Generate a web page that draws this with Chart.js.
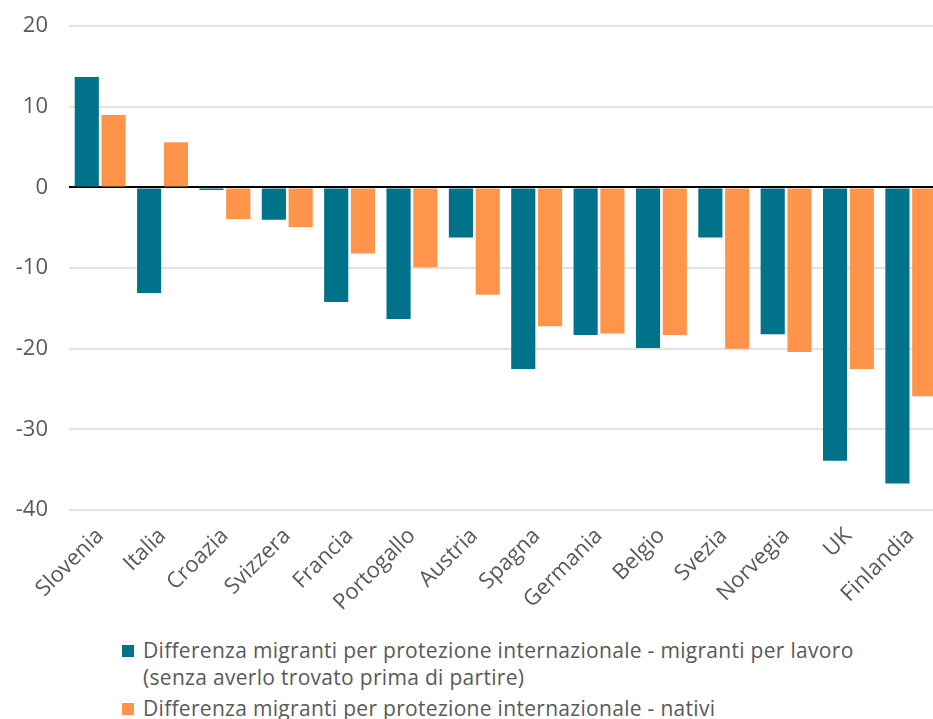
<!DOCTYPE html>
<html>
<head>
<meta charset="utf-8">
<script src="https://cdn.jsdelivr.net/npm/chart.js@4"></script>
<style>
  body { margin: 0; background: #fff; font-family: "Open Sans", sans-serif; }
  .wrap { width: 933px; height: 719px; position: relative; overflow: hidden; }
  .chart-box { width: 942px; height: 636px; position: relative; top: -8px; }
  .legend { position: absolute; left: 122px; top: 637px; color: #595959; font-size: 21px; line-height: 27px; letter-spacing: 0.3px; }
  .legend .item { display: flex; align-items: flex-start; margin-bottom: 4px; }
  .legend .sw { width: 12px; height: 12px; margin-top: 8px; margin-right: 9px; flex: none; }
</style>
</head>
<body>
<div class="wrap">
  <div class="chart-box"><canvas id="chart"></canvas></div>
  <div class="legend" id="legend"></div>
</div>
<script>
// countries
const categories = ['Slovenia', 'Italia', 'Croazia', 'Svizzera', 'Francia', 'Portogallo', 'Austria',
  'Spagna', 'Germania', 'Belgio', 'Svezia', 'Norvegia', 'UK', 'Finlandia'];

// differenza migranti per protezione internazionale - migranti per lavoro
const diffLavoro = [13.7, -13.1, -0.3, -4.0, -14.2, -16.3, -6.2, -22.5, -18.3, -19.9, -6.2, -18.2, -33.9, -36.7];
// differenza migranti per protezione internazionale - nativi
const diffNativi = [9.0, 5.6, -3.9, -4.9, -8.2, -9.9, -13.3, -17.2, -18.1, -18.3, -20.0, -20.4, -22.5, -25.9];

const yTicks = [20, 10, 0, -10, -20, -30, -40];

const seriesLabels = [
  ['Differenza migranti per protezione internazionale - migranti per lavoro', '(senza averlo trovato prima di partire)'],
  ['Differenza migranti per protezione internazionale - nativi']
];
const colors = ['#00728A', '#FF944A'];

const ctx = document.getElementById('chart').getContext('2d');
const chart = new Chart(ctx, {
  type: 'bar',
  data: {
    labels: categories,
    datasets: [
      { label: seriesLabels[0].join(' '), data: diffLavoro, backgroundColor: colors[0] },
      { label: seriesLabels[1].join(' '), data: diffNativi, backgroundColor: colors[1] }
    ]
  },
  options: {
    responsive: true,
    maintainAspectRatio: false,
    animation: false,
    layout: { padding: { top: 0, right: 0, left: 0, bottom: 0 } },
    datasets: {
      bar: { categoryPercentage: 0.86, barPercentage: 0.9 }
    },
    scales: {
      x: {
        grid: { display: false },
        border: { display: false },
        afterFit: (axis) => { axis.height = 118; },
        ticks: {
          color: '#595959',
          font: { family: 'Open Sans', size: 22 },
          minRotation: 45,
          maxRotation: 45,
          padding: 5
        }
      },
      y: {
        min: -40,
        max: 20,
        afterBuildTicks: (axis) => { axis.ticks = yTicks.map(v => ({ value: v })); },
        afterFit: (axis) => { axis.width = 69; },
        border: { display: false },
        grid: {
          drawTicks: false,
          lineWidth: 2,
          color: (c) => c.tick && c.tick.value === 0 ? '#000000' : '#e3e3e3'
        },
        ticks: {
          color: '#595959',
          font: { family: 'Open Sans', size: 22 },
          padding: 21
        }
      }
    },
    plugins: {
      legend: { display: false },
      tooltip: { enabled: false }
    }
  }
});

// legend below the chart, built from the datasets
const legendEl = document.getElementById('legend');
chart.data.datasets.forEach((ds, i) => {
  const item = document.createElement('div');
  item.className = 'item';
  const sw = document.createElement('span');
  sw.className = 'sw';
  sw.style.background = ds.backgroundColor;
  const txt = document.createElement('span');
  txt.innerHTML = seriesLabels[i].join('<br>');
  item.appendChild(sw);
  item.appendChild(txt);
  legendEl.appendChild(item);
});
</script>
</body>
</html>
